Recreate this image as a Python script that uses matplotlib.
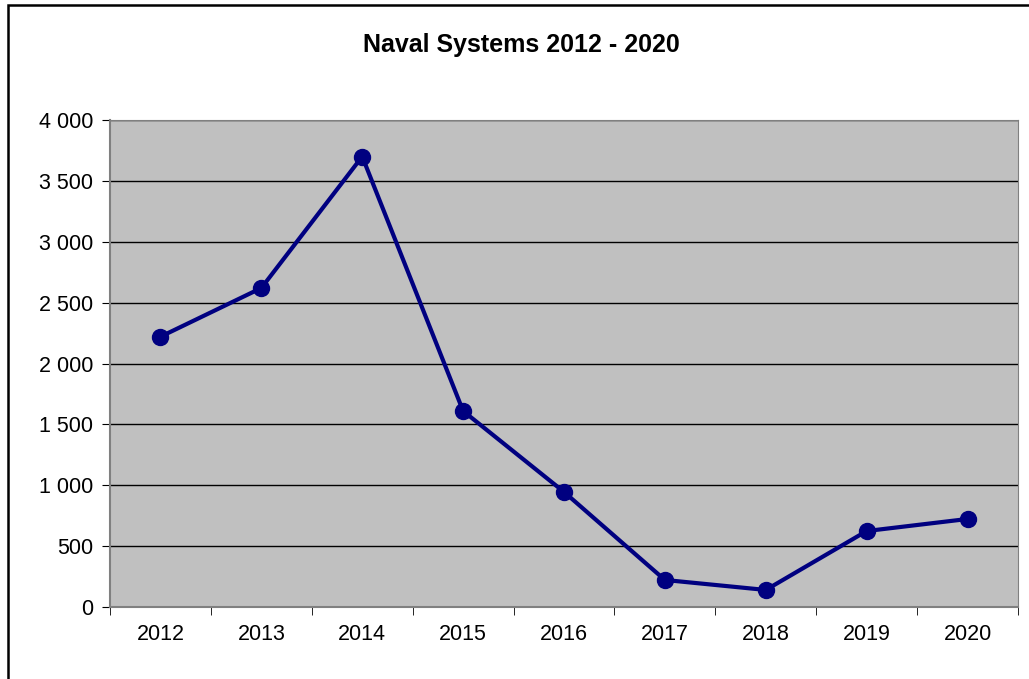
import matplotlib.pyplot as plt
from matplotlib.patches import Rectangle
from matplotlib.ticker import FuncFormatter, MultipleLocator

years = ["2012", "2013", "2014", "2015", "2016", "2017", "2018", "2019", "2020"]
values = [2220, 2620, 3700, 1610, 945, 222, 140, 624, 723]

plt.rcParams["font.family"] = ["Liberation Sans", "DejaVu Sans"]

fig = plt.figure(figsize=(10.29, 6.79), dpi=100)

# outer chart border (only left and top edges fall inside the picture)
fig.patches.append(Rectangle((8 / 1029, -0.05), 1.1, 1.05 - 5 / 679,
                             transform=fig.transFigure, fill=False,
                             edgecolor="black", linewidth=1.8))

ax = fig.add_axes([110 / 1029, 72 / 679, 908 / 1029, 487 / 679])
ax.set_facecolor("#C0C0C0")

x = range(len(years))
ax.plot(x, values, color="#000080", linewidth=3, marker="o", markersize=11.5,
        zorder=3)

ax.set_xlim(-0.5, len(years) - 0.5)
ax.set_ylim(0, 4000)
ax.yaxis.set_major_locator(MultipleLocator(500))
ax.yaxis.set_major_formatter(FuncFormatter(lambda v, p: f"{int(v):,}".replace(",", " ")))
ax.set_xticks(list(x))
ax.set_xticklabels(years)
ax.set_xticks([i - 0.5 for i in range(len(years) + 1)], minor=True)
ax.tick_params(axis="x", which="major", length=0, pad=12, labelsize=15.5)
ax.tick_params(axis="x", which="minor", length=6, color="black", direction="out")
ax.tick_params(axis="y", length=6, labelsize=15.5, pad=6)

ax.grid(axis="y", color="black", linewidth=1)
ax.set_axisbelow(True)
for side in ["top", "right"]:
    ax.spines[side].set_color("#808080")
for side in ["left", "bottom"]:
    ax.spines[side].set_color("#808080")
    ax.spines[side].set_linewidth(1.5)

fig.text(521 / 1029, 1 - 45 / 679, "Naval Systems 2012 - 2020", ha="center",
         va="center", fontsize=18, fontweight="bold")

fig.savefig("out.png", dpi=100)
